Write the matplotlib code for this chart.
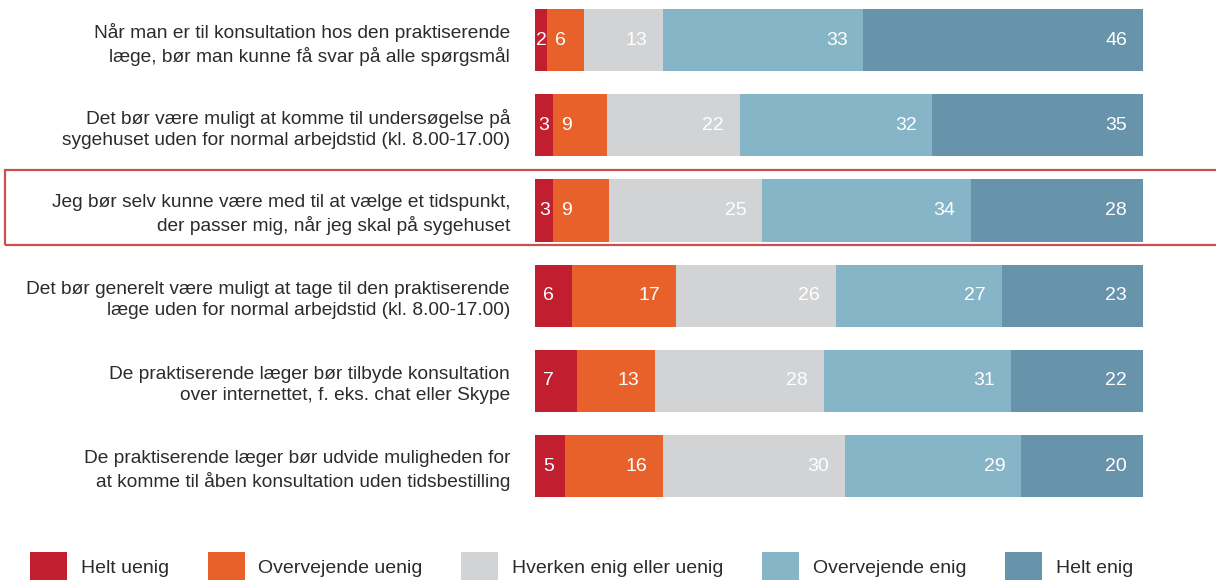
import matplotlib.pyplot as plt
from matplotlib.patches import Patch, Rectangle

plt.rcParams['font.family'] = ['Liberation Sans', 'DejaVu Sans']

# data
questions = [
    "Når man er til konsultation hos den praktiserende\nlæge, bør man kunne få svar på alle spørgsmål",
    "Det bør være muligt at komme til undersøgelse på\nsygehuset uden for normal arbejdstid (kl. 8.00-17.00)",
    "Jeg bør selv kunne være med til at vælge et tidspunkt,\nder passer mig, når jeg skal på sygehuset",
    "Det bør generelt være muligt at tage til den praktiserende\nlæge uden for normal arbejdstid (kl. 8.00-17.00)",
    "De praktiserende læger bør tilbyde konsultation\nover internettet, f. eks. chat eller Skype",
    "De praktiserende læger bør udvide muligheden for\nat komme til åben konsultation uden tidsbestilling",
]
answers = ["Helt uenig", "Overvejende uenig", "Hverken enig eller uenig",
           "Overvejende enig", "Helt enig"]
helt_uenig = [2, 3, 3, 6, 7, 5]
overvejende_uenig = [6, 9, 9, 17, 13, 16]
hverken = [13, 22, 25, 26, 28, 30]
overvejende_enig = [33, 32, 34, 27, 31, 29]
helt_enig = [46, 35, 28, 23, 22, 20]

series = [helt_uenig, overvejende_uenig, hverken, overvejende_enig, helt_enig]
colors = ["#c11f30", "#e8612a", "#d2d3d5", "#87b5c8", "#6794aa"]

fig = plt.figure(figsize=(12.16, 5.8), dpi=100)
ax = fig.add_axes([0.44, 0.123, 0.5, 0.874])

# rounded shares don't always add to 100, bars are stretched to full width
totals = [sum(t) for t in zip(*series)]
ypos = list(range(len(questions)))
left = [0] * len(questions)
for vals, col in zip(series, colors):
    widths = [v / t * 100 for v, t in zip(vals, totals)]
    ax.barh(ypos, widths, left=left, height=0.73, color=col)
    for y, v, w, l in zip(ypos, vals, widths, left):
        if v < 10:
            ax.text(l + min(w / 2, 2.2), y, str(v), ha="center", va="center",
                    color="white", fontsize=14)
        else:
            ax.text(l + w - 2.6, y, str(v), ha="right", va="center",
                    color="white", fontsize=14)
    left = [a + b for a, b in zip(left, widths)]

ax.set_xlim(0, 100)
ax.set_ylim(5.5, -0.45)
ax.set_yticks(ypos)
ax.set_yticklabels(questions, fontsize=13.8, color="#2b2b2b", linespacing=1.3)
ax.tick_params(axis="y", length=0, pad=18)
ax.set_xticks([])
for s in ax.spines.values():
    s.set_visible(False)

# highlight box around the third question
fig.patches.append(Rectangle((5 / 1216, 1 - 245 / 580), 1.0, 75 / 580,
                             transform=fig.transFigure, fill=False,
                             edgecolor="#c9504f", linewidth=1.6, clip_on=False))

handles = [Patch(facecolor=c, edgecolor="none") for c in colors]
fig.legend(handles, answers, loc="center left", bbox_to_anchor=(30 / 1216, 0.022),
           ncol=5, frameon=False, fontsize=14, handlelength=1.9, handleheight=2.0,
           handletextpad=0.7, columnspacing=2.0, borderpad=0, borderaxespad=0,
           labelcolor="#2b2b2b")

fig.savefig("out.png", dpi=100)
